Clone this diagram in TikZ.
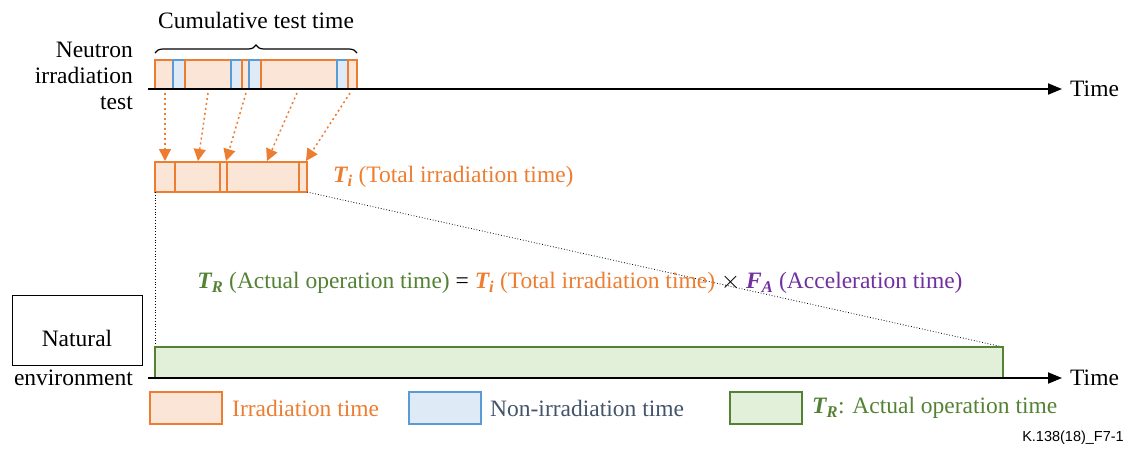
\documentclass[tikz,border=0pt]{standalone}
\usepackage{fontspec}
\setmainfont{Liberation Serif}
\newfontfamily\refsans{Liberation Sans}
\usepackage{xcolor}
\usetikzlibrary{arrows.meta, decorations.pathreplacing, positioning}
\definecolor{irrline}{HTML}{ED7D31}
\definecolor{irrfill}{HTML}{FBE5D6}
\definecolor{nonline}{HTML}{5B9BD5}
\definecolor{nonfill}{HTML}{DEEBF7}
\definecolor{nontext}{HTML}{44546A}
\definecolor{opline}{HTML}{548235}
\definecolor{opfill}{HTML}{E2F0D9}
\definecolor{accel}{HTML}{7030A0}
\tikzset{
    irr/.style={draw=irrline, fill=irrfill, line width=1.5pt},
    nonirr/.style={draw=nonline, fill=nonfill, line width=1.5pt},
    oper/.style={draw=opline, fill=opfill, line width=1.5pt},
    txt/.style={font=\fontsize{23.5}{26}\selectfont, inner sep=0pt},
    timeaxis/.style={line width=2pt, -{Triangle[length=14pt,width=11pt]}},
    mapping/.style={irrline, line width=1.5pt, dash pattern=on 2pt off 3pt, -{Triangle[length=12pt,width=12pt]}},
    guide/.style={line width=0.8pt, dotted}
}
\newcommand{\bolditsub}[2]{\textbf{\textit{#1\textsubscript{#2}}}}

\begin{document}
\begin{tikzpicture}[x=1pt, y=-1pt]
            \useasboundingbox (0,0) rectangle (1128,450);
            % neutron irradiation test
            \foreach \a/\b/\s in {155/173/irr, 173/185/nonirr, 185/231/irr, 231/242/nonirr, 242/249/irr,
                                  249/261/nonirr, 261/337/irr, 337/348/nonirr, 348/357/irr}
                \draw[\s] (\a,60) rectangle (\b,89);
            \coordinate (topstart) at (148,89);
            \coordinate (topend) at (1062,89);
            \draw[timeaxis] (topstart) -- (topend);
            \node[txt, right=8pt of topend] (timetop) {Time};
            \node[txt, align=right, anchor=east] (neutron) at (133,76) {Neutron\\irradiation\\test};
            \draw[decorate, decoration={brace, amplitude=8pt}, line width=1.2pt] (155,53) -- (357,53);
            \node[txt] (cumulative) at (256,20) {Cumulative test time};
            % total irradiation time
            \foreach \a/\b in {155/175, 175/220, 220/227, 227/299, 299/307}
                \draw[irr] (\a,162) rectangle (\b,192);
            \foreach \i/\xs/\xe in {1/165/165, 2/208/198, 3/246/226, 4/297/267, 5/350/306} {
                \coordinate (s\i) at (\xs,93);
                \coordinate (e\i) at (\xe,161);
                \draw[mapping] (s\i) -- (e\i);
            }
            \node[txt, irrline, anchor=west] (totaltime) at (333,177) {\bolditsub{T}{i} (Total irradiation time)};
            % natural environment
            \coordinate (tileft) at (155,192);
            \coordinate (tiright) at (307,192);
            \coordinate (trleft) at (155,378);
            \coordinate (trright) at (1003,347);
            \draw[guide] (tileft) -- (trleft);
            \draw[guide] (tiright) -- (trright);
            \draw[oper] (155,347) rectangle (1003,378);
            \coordinate (botstart) at (148,378);
            \coordinate (botend) at (1062,378);
            \draw[timeaxis] (botstart) -- (botend);
            \node[txt, right=8pt of botend] (timebot) {Time};
            \node[txt] (equation) at (580,283) {\textcolor{opline}{\bolditsub{T}{R} (Actual operation time)} =
                \textcolor{irrline}{\bolditsub{T}{i} (Total irradiation time)} $\times$
                \textcolor{accel}{\bolditsub{F}{A} (Acceleration time)}};
            \node[draw, line width=1pt, minimum width=130pt, minimum height=70pt] (natbox) at (77,330) {};
            \node[txt] (natural) at (77,338) {Natural};
            \node[txt, anchor=east] (environment) at (133,378) {environment};
            % legend
            \draw[irr] (150,392) rectangle (222,424);
            \node[txt, irrline, anchor=west] (legirr) at (232,408) {Irradiation time};
            \draw[nonirr] (409,392) rectangle (481,424);
            \node[txt, nontext, anchor=west] (legnon) at (490,408) {Non-irradiation time};
            \draw[oper] (730,392) rectangle (802,424);
            \node[txt, opline, anchor=west] (legop) at (812,408) {\bolditsub{T}{R}: Actual operation time};
            \node[font=\refsans\fontsize{14.5}{16}\selectfont, inner sep=0pt, anchor=east] (figref) at (1124,438) {K.138(18)\_F7-1};
        \end{tikzpicture}
\end{document}
